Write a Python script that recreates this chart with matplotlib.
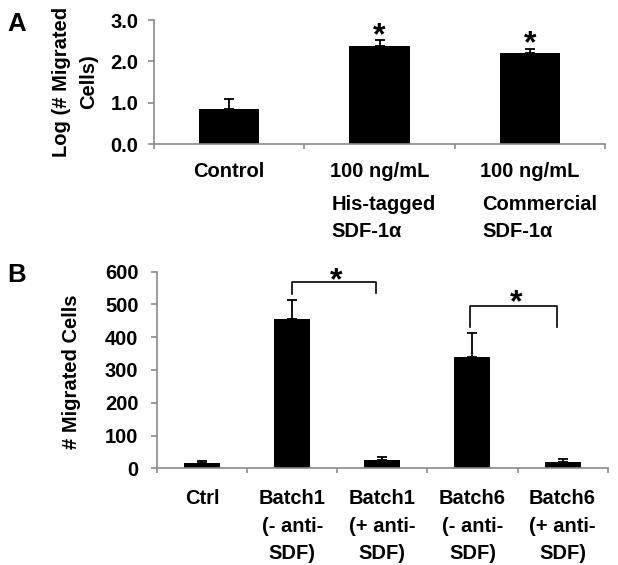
import matplotlib
matplotlib.use("Agg")
import matplotlib.pyplot as plt
import numpy as np

plt.rcParams['font.family'] = ['Liberation Sans', 'DejaVu Sans']
plt.rcParams['font.weight'] = 'bold'
plt.rcParams['font.size'] = 14.5

# panel A data
labels_a = ['Control', '100 ng/mL', '100 ng/mL']
sublabels_a = ['', 'His-tagged\nSDF-1α', 'Commercial\nSDF-1α']
means_a = [0.84, 2.36, 2.20]
err_a = [0.26, 0.16, 0.10]
star_x_a = [1, 2]
star_y_a = [2.88, 2.69]

# panel B data
labels_b = ['Ctrl', 'Batch1\n(- anti-\nSDF)', 'Batch1\n(+ anti-\nSDF)',
            'Batch6\n(- anti-\nSDF)', 'Batch6\n(+ anti-\nSDF)']
means_b = [17, 455, 25, 340, 18]
err_b = [5, 58, 8, 73, 9]
# (left x, right x, top, left leg bottom, right leg bottom)
brackets_b = [(1.0, 1.93, 569, 531, 534), (2.97, 3.94, 495, 432, 432)]
star_x_b = [1.49, 3.49]
star_y_b = [605, 539]

AXIS = '#8a8a8a'
LS = 1.56
STAR = 23


def style(ax, n, xpad, ypad):
    for s in ['top', 'right']:
        ax.spines[s].set_visible(False)
    for s in ['left', 'bottom']:
        ax.spines[s].set_color(AXIS)
        ax.spines[s].set_linewidth(1.2)
    ax.set_xlim(-0.5, n - 0.5)
    ax.set_xticks(np.arange(n))
    ax.set_xticks(np.arange(n + 1) - 0.5, minor=True)
    ax.tick_params(axis='x', which='major', length=0, pad=xpad)
    ax.tick_params(axis='x', which='minor', length=3.6, color=AXIS, width=1.2)
    ax.tick_params(axis='y', length=4.3, color=AXIS, width=1.2, pad=ypad)


def star(ax, x, y):
    # anchor so that the glyph centre lands on y
    ax.annotate('*', (x, y), xytext=(0, -0.6 * STAR), textcoords='offset points',
                ha='center', va='baseline', fontsize=STAR, annotation_clip=False)


fig = plt.figure(figsize=(6.18, 5.65), dpi=100)
ax1 = fig.add_axes([0.2492, 0.7451, 0.7298, 0.2195])
ax2 = fig.add_axes([0.254, 0.1712, 0.7293, 0.348])

# ---- A
xa = np.arange(len(means_a))
ax1.bar(xa, means_a, width=0.4, color='black')
ax1.errorbar(xa, means_a, yerr=[np.zeros(len(err_a)), err_a], fmt='none',
             ecolor='black', elinewidth=1.3, capsize=3.3, capthick=1.3)
style(ax1, len(means_a), 13.0, 7)
ax1.set_ylim(0, 3)
ax1.set_yticks([0, 1, 2, 3])
ax1.set_yticklabels(['0.0', '1.0', '2.0', '3.0'])
ax1.set_xticklabels(labels_a)
ax1.text(-0.175, 0.5, 'Log (# Migrated\nCells)', transform=ax1.transAxes,
         rotation=90, ha='center', va='center', multialignment='center',
         linespacing=LS)
for x, y in zip(star_x_a, star_y_a):
    star(ax1, x, y)

# ---- B
xb = np.arange(len(means_b))
ax2.bar(xb, means_b, width=0.4, color='black')
ax2.errorbar(xb, means_b, yerr=[np.zeros(len(err_b)), err_b], fmt='none',
             ecolor='black', elinewidth=1.3, capsize=3.5, capthick=1.3)
style(ax2, len(means_b), 15.0, 9)
ax2.set_ylim(0, 600)
ax2.set_yticks(range(0, 601, 100))
ax2.set_xticklabels(labels_b, linespacing=LS, multialignment='center')
ax2.text(-0.189, 0.49, '# Migrated Cells', transform=ax2.transAxes,
         rotation=90, ha='center', va='center')
for x0, x1, yt, yl, yr in brackets_b:
    ax2.plot([x0, x0, x1, x1], [yl, yt, yt, yr], color='black', lw=1.2,
             clip_on=False)
for x, y in zip(star_x_b, star_y_b):
    star(ax2, x, y)

fig.text(17 / 618, 1 - 24 / 565, 'A', fontsize=18.5, ha='center', va='center')
fig.text(17 / 618, 1 - 275 / 565, 'B', fontsize=18.5, ha='center', va='center')

# second/third lines of panel A labels, left-aligned under the first line
fig.canvas.draw()
r = fig.canvas.get_renderer()
for tl, sub in zip(ax1.get_xticklabels(), sublabels_a):
    if not sub:
        continue
    bb = tl.get_window_extent(r)
    xax = ax1.transAxes.inverted().transform((bb.x0 + 2, 0))[0]
    ax1.text(xax, -0.411, sub, transform=ax1.transAxes, ha='left', va='top',
             linespacing=LS)

fig.savefig('out.png', dpi=100)
